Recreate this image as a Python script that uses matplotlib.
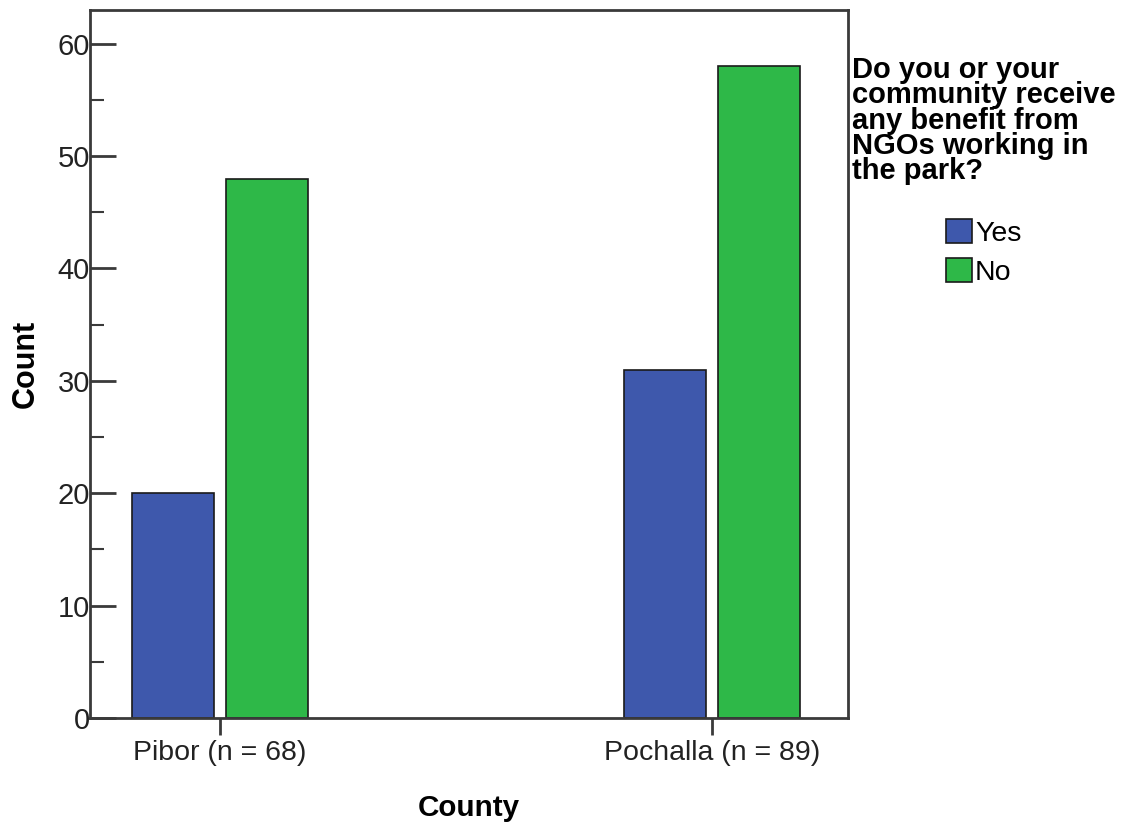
import matplotlib.pyplot as plt
from matplotlib.patches import Patch
from matplotlib.ticker import MultipleLocator
import numpy as np

plt.rcParams['font.family'] = ['Liberation Sans', 'DejaVu Sans']

counties = ['Pibor (n = 68)', 'Pochalla (n = 89)']
yes_counts = [20, 31]
no_counts = [48, 58]
answers = ['Yes', 'No']
legend_title = 'Do you or your\ncommunity receive\nany benefit from\nNGOs working in\nthe park?'

blue = '#3E58AC'
green = '#2EB848'
spine_col = '#3a3a3a'

fig = plt.figure(figsize=(11.29, 8.23), dpi=100)
ax = fig.add_axes([90 / 1129, 105 / 823, 758 / 1129, 708 / 823])

x = np.arange(len(counties))
w = 0.167
off = 0.095
ax.bar(x - off, yes_counts, w, color=blue, edgecolor='#1a1a1a', linewidth=1.2)
ax.bar(x + off, no_counts, w, color=green, edgecolor='#1a1a1a', linewidth=1.2)

ax.set_xlim(-0.264, 1.276)
ax.set_ylim(0, 63.0)

for s in ax.spines.values():
    s.set_color(spine_col)
    s.set_linewidth(2)

ax.yaxis.set_major_locator(MultipleLocator(10))
ax.yaxis.set_minor_locator(MultipleLocator(5))
ax.tick_params(axis='y', which='major', direction='in', length=19, width=2,
               color=spine_col, labelsize=21, pad=0, labelcolor='#222222')
ax.tick_params(axis='y', which='minor', direction='in', length=10, width=1.5,
               color=spine_col)
ax.set_xticks(x)
ax.set_xticklabels(counties)
ax.tick_params(axis='x', direction='out', length=12, width=2, color=spine_col,
               labelsize=20.5, pad=4, labelcolor='#222222')

ax.set_ylabel('Count', fontsize=22, fontweight='bold', labelpad=12)
ax.set_xlabel('County', fontsize=21.3, fontweight='bold', labelpad=20)

fig.text(852 / 1129, 1 - 56 / 823, legend_title, fontsize=21, fontweight='bold',
         va='top', ha='left', linespacing=0.88)

handles = [Patch(facecolor=blue, edgecolor='#1a1a1a', linewidth=1.2),
           Patch(facecolor=green, edgecolor='#1a1a1a', linewidth=1.2)]
fig.legend(handles, answers, loc='upper left',
           bbox_to_anchor=(946 / 1129, 1 - 219 / 823), frameon=False,
           fontsize=20.5, handlelength=0.92, handleheight=0.92,
           handletextpad=0.1, labelspacing=0.4, borderpad=0, borderaxespad=0)

fig.savefig('out.png', dpi=100)
